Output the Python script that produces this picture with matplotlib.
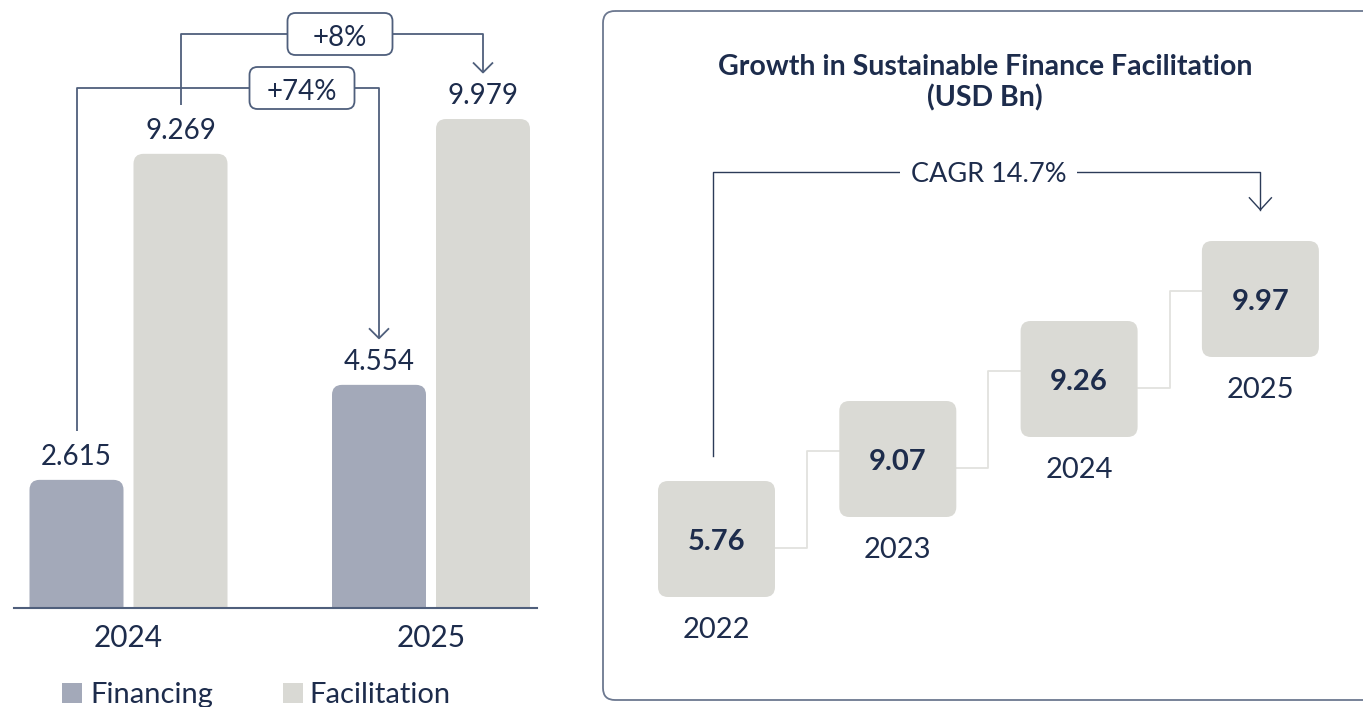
import matplotlib
matplotlib.use("Agg")
import matplotlib.pyplot as plt
from matplotlib.patches import FancyBboxPatch, Rectangle

# data
groups = ["2024", "2025"]
financing = [2.615, 4.554]
facilitation = [9.269, 9.979]
series_names = ["Financing", "Facilitation"]
growth_labels = ["+74%", "+8%"]

step_years = ["2022", "2023", "2024", "2025"]
step_values = [5.76, 9.07, 9.26, 9.97]
cagr_label = "CAGR 14.7%"
panel_title = "Growth in Sustainable Finance Facilitation\n(USD Bn)"

# style
NAVY = "#1d2c4c"
LINE = "#4f5f7c"
FIN_C = "#a3a9b9"
FAC_C = "#d9d9d4"
BOX_C = "#dadad5"
CONN_C = "#e2e2de"
FONT = "Lato"

W, H = 1363, 707
fig = plt.figure(figsize=(W / 100, H / 100), dpi=100)

# background axes in pixel units (panel frame, legend, title)
bg = fig.add_axes([0, 0, 1, 1])
bg.set_xlim(0, W)
bg.set_ylim(H, 0)
bg.axis("off")

# ---------------- left: grouped bars ----------------
px_x, px_y = 302.5, 49.0          # pixels per data unit
left_px, base_px, right_px = 14, 608, 537
ax = fig.add_axes([left_px / W, (H - base_px) / H, (right_px - left_px) / W, base_px / H])
ax.set_xlim(-(128.5 - left_px) / px_x, 1 + (right_px - 431) / px_x)
ax.set_ylim(0, base_px / px_y)
ax.axis("off")
asp_l = px_x / px_y

bw, off = 94 / px_x, 52 / px_x
xs = range(len(groups))
fin_bars = ax.bar([x - off for x in xs], financing, bw, color=FIN_C)
fac_bars = ax.bar([x + off for x in xs], facilitation, bw, color=FAC_C)


def round_top(axis, rect, r, aspect, color):
    x, y, w, h = rect.get_x(), rect.get_y(), rect.get_width(), rect.get_height()
    rect.set_visible(False)
    axis.add_patch(FancyBboxPatch((x, y - r * aspect), w, h + r * aspect,
                                  boxstyle=f"round,pad=0,rounding_size={r}",
                                  mutation_aspect=aspect, fc=color, ec="none"))


for bars, c in [(fin_bars, FIN_C), (fac_bars, FAC_C)]:
    for b in bars:
        round_top(ax, b, 10 / px_x, asp_l, c)
        v = b.get_height()
        ax.text(b.get_x() + b.get_width() / 2, v + 0.3, f"{v:.3f}", ha="center",
                va="baseline", fontsize=20, color=NAVY, family=FONT)

ax.axhline(0, color=LINE, lw=1.5, clip_on=False)
for x, g in zip(xs, groups):
    ax.text(x, -0.8, g, ha="center", va="baseline", fontsize=21.5, color=NAVY,
            family=FONT, clip_on=False)


def arrow_v(axis, x, tip, dx, dy, **kw):
    axis.plot([x - dx, x, x + dx], [tip + dy, tip, tip + dy], **kw)


def growth_bracket(bars, level, label, box_x):
    b0, b1 = bars[0], bars[1]
    x0 = b0.get_x() + b0.get_width() / 2
    x1 = b1.get_x() + b1.get_width() / 2
    y0 = b0.get_height() + 1.0
    y1 = b1.get_height() + 0.95
    kw = dict(color=LINE, lw=1.3, clip_on=False, solid_capstyle="butt")
    ax.plot([x0, x0, x1, x1], [y0, level, level, y1], **kw)
    arrow_v(ax, x1, y1, 10 / px_x, 10 / px_y, **kw)
    bwid, bhei = 105 / px_x, 42 / px_y
    ax.add_patch(FancyBboxPatch((box_x - bwid / 2, level - bhei / 2), bwid, bhei,
                                boxstyle=f"round,pad=0,rounding_size={8 / px_x}",
                                mutation_aspect=asp_l, fc="white", ec=LINE,
                                lw=1.3, clip_on=False, zorder=3))
    ax.text(box_x, level - 0.25, label, ha="center", va="baseline", fontsize=20,
            color=NAVY, family=FONT, zorder=4)


growth_bracket(fin_bars, (base_px - 88) / px_y, growth_labels[0], (302 - 128.5) / px_x)
growth_bracket(fac_bars, (base_px - 34) / px_y, growth_labels[1], (340 - 128.5) / px_x)

# legend
for (sx, tx), name, c in zip([(62, 90), (283, 309)], series_names, [FIN_C, FAC_C]):
    bg.add_patch(Rectangle((sx, 683), 20, 20, fc=c, ec="none"))
    bg.text(tx, 703, name, ha="left", va="baseline", fontsize=21, color=NAVY, family=FONT)

# ---------------- right: stepped boxes ----------------
bg.add_patch(FancyBboxPatch((603, 11), 820, 689, boxstyle="round,pad=0,rounding_size=12",
                            fc="none", ec="#6c7890", lw=1.3))
bg.text(985, 54, panel_title, ha="center", va="top", fontsize=20.5, fontweight="bold",
        color=NAVY, family=FONT, linespacing=1.2, multialignment="center")

sx_px, sy_px = 181.3, 80.0
cx0, cy0 = 716.5, 539
axr = fig.add_axes([603 / W, 0, (W - 603) / W, 1])
axr.set_xlim(-(cx0 - 603) / sx_px, (W - cx0) / sx_px)
axr.set_ylim(-(H - cy0) / sy_px, cy0 / sy_px)
axr.axis("off")
asp_r = sx_px / sy_px

bxw, bxh = 117 / sx_px, 116 / sy_px
for i, (yr, v) in enumerate(zip(step_years, step_values)):
    axr.add_patch(FancyBboxPatch((i - bxw / 2, i - bxh / 2), bxw, bxh,
                                 boxstyle=f"round,pad=0,rounding_size={10 / sx_px}",
                                 mutation_aspect=asp_r, fc=BOX_C, ec="none", zorder=2))
    axr.text(i, i - 0.14, f"{v:.2f}", ha="center", va="baseline", fontsize=21,
             fontweight="bold", color=NAVY, family=FONT, zorder=3)
    axr.text(i, i - 1.24, yr, ha="center", va="baseline", fontsize=21, color=NAVY,
             family=FONT)
    if i < len(step_years) - 1:
        xm = i + 0.5
        axr.plot([i + bxw / 2, xm, xm, i + 1 - bxw / 2], [i - 0.11, i - 0.11, i + 1.1, i + 1.1],
                 color=CONN_C, lw=1.3, zorder=1)

top = 4.5875
last = len(step_years) - 1
kw = dict(color="#2c3b58", lw=1.0)
axr.plot([-0.02, -0.02, last, last], [1.04, top, top, last + bxh / 2 + 0.39], **kw)
arrow_v(axr, last, last + bxh / 2 + 0.39, 11 / sx_px, 12 / sy_px, **kw)
axr.text(last / 2, top - 0.13, cagr_label, ha="center", va="baseline", fontsize=19.5,
         color=NAVY, family=FONT,
         bbox=dict(fc="white", ec="none", pad=8))

fig.savefig("out.png", dpi=100)
